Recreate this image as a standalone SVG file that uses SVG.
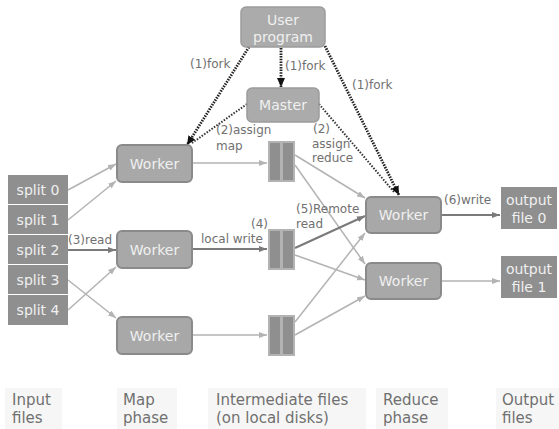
<svg xmlns="http://www.w3.org/2000/svg" width="559" height="429" viewBox="0 0 559 429">
<style>
text{font-family:"DejaVu Sans","Liberation Sans",sans-serif}
.node{fill:#a8a8a8;stroke:#8a8a8a;stroke-width:2}
.top{fill:#ababab;stroke:#9c9c9c;stroke-width:1.5}
.nt{fill:#f0f0f0;font-size:14px;text-anchor:middle}
.file{fill:#8f8f8f}
.ft{fill:#f0f0f0;font-size:14px;text-anchor:middle}
.lbl{fill:#707070;font-size:12px}
.lt{stroke:#b3b3b3;stroke-width:1.5;fill:none}
.dk{stroke:#7a7a7a;stroke-width:2;fill:none}
.dot{stroke:#222;stroke-width:2.8;stroke-dasharray:1.5 1.2;fill:none}
.dot2{stroke:#333;stroke-width:2;stroke-dasharray:1.5 1.5;fill:none}
.cap{fill:#f6f6f6}
.ct{fill:#707070;font-size:15px}
.ib{fill:#b3b3b3}
.ii{fill:#8f8f8f}
</style>
<defs>
<marker id="al" markerUnits="userSpaceOnUse" markerWidth="8" markerHeight="7" refX="8" refY="3.5" orient="auto"><path d="M0,0.5 L8,3.5 L0,6.5 z" fill="#b3b3b3"/></marker>
<marker id="ad" markerUnits="userSpaceOnUse" markerWidth="8" markerHeight="7" refX="8" refY="3.5" orient="auto"><path d="M0,0.5 L8,3.5 L0,6.5 z" fill="#7a7a7a"/></marker>
<marker id="ab" markerUnits="userSpaceOnUse" markerWidth="9" markerHeight="8" refX="9" refY="4" orient="auto"><path d="M0,0 L9,4 L0,8 z" fill="#111"/></marker>
</defs>

<g id="connectors">
<line class="lt" x1="68" y1="190" x2="116" y2="164" marker-end="url(#al)"/>
<line class="lt" x1="68" y1="220" x2="116" y2="181" marker-end="url(#al)"/>
<line class="dk" x1="68" y1="250" x2="116" y2="250" marker-end="url(#ad)"/>
<line class="lt" x1="68" y1="280" x2="116" y2="318" marker-end="url(#al)"/>
<line class="lt" x1="68" y1="310" x2="116" y2="267" marker-end="url(#al)"/>
<line class="lt" x1="192" y1="163" x2="267" y2="163" marker-end="url(#al)"/>
<line class="dk" x1="192" y1="249" x2="267" y2="249" marker-end="url(#ad)"/>
<line class="lt" x1="192" y1="335" x2="267" y2="335" marker-end="url(#al)"/>
<line class="lt" x1="295" y1="155" x2="365" y2="198" marker-end="url(#al)"/>
<line class="lt" x1="295" y1="165" x2="365" y2="264" marker-end="url(#al)"/>
<line class="dk" x1="295" y1="248" x2="365" y2="216" marker-end="url(#ad)"/>
<line class="lt" x1="295" y1="255" x2="365" y2="280" marker-end="url(#al)"/>
<line class="lt" x1="295" y1="322" x2="365" y2="233" marker-end="url(#al)"/>
<line class="lt" x1="295" y1="335" x2="365" y2="296" marker-end="url(#al)"/>
<line class="dk" x1="441" y1="215" x2="500" y2="215" marker-end="url(#ad)"/>
<line class="lt" x1="441" y1="281" x2="500" y2="281" marker-end="url(#al)"/>
<line class="dot" x1="281" y1="48" x2="281" y2="87" marker-end="url(#ab)"/>
<line class="dot" x1="249" y1="47" x2="187" y2="145" marker-end="url(#ab)"/>
<line class="dot" x1="325" y1="46" x2="399" y2="195" marker-end="url(#ab)"/>
<line class="dot2" x1="247" y1="104" x2="192" y2="143"/>
<line class="dot2" x1="319" y1="104" x2="394" y2="192"/>
</g>

<g id="labels">
<text class="lbl" x="190" y="68">(1)fork</text>
<text class="lbl" x="285" y="70">(1)fork</text>
<text class="lbl" x="352" y="89">(1)fork</text>
<text class="lbl" x="216" y="134">(2)assign</text>
<text class="lbl" x="216" y="150">map</text>
<text class="lbl" x="313" y="133">(2)</text>
<text class="lbl" x="312" y="148">assign</text>
<text class="lbl" x="312" y="162">reduce</text>
<text class="lbl" x="68" y="244">(3)read</text>
<text class="lbl" x="251" y="228">(4)</text>
<text class="lbl" x="201" y="243">local write</text>
<text class="lbl" x="296" y="213">(5)Remote</text>
<text class="lbl" x="296" y="228">read</text>
<text class="lbl" x="444" y="204">(6)write</text>
</g>

<g id="user-program"><rect class="top" x="241" y="7" width="84" height="40" rx="5"/><text class="nt" x="283" y="25">User</text><text class="nt" x="283" y="42">program</text></g>
<g id="master"><rect class="top" x="247" y="88" width="72" height="34" rx="5"/><text class="nt" x="283" y="110">Master</text></g>

<g id="map-worker-0"><rect class="node" x="117" y="145" width="75" height="37" rx="5"/><text class="nt" x="154.5" y="169">Worker</text></g>
<g id="map-worker-1"><rect class="node" x="117" y="231" width="75" height="37" rx="5"/><text class="nt" x="154.5" y="255">Worker</text></g>
<g id="map-worker-2"><rect class="node" x="117" y="317" width="75" height="37" rx="5"/><text class="nt" x="154.5" y="341">Worker</text></g>

<g id="reduce-worker-0"><rect class="node" x="366" y="197" width="75" height="36" rx="5"/><text class="nt" x="403.5" y="220">Worker</text></g>
<g id="reduce-worker-1"><rect class="node" x="366" y="263" width="75" height="36" rx="5"/><text class="nt" x="403.5" y="286">Worker</text></g>

<g id="split-0"><rect class="file" x="8" y="175" width="60" height="29"/><text class="ft" x="38" y="195">split 0</text></g>
<g id="split-1"><rect class="file" x="8" y="205" width="60" height="29"/><text class="ft" x="38" y="225">split 1</text></g>
<g id="split-2"><rect class="file" x="8" y="235" width="60" height="29"/><text class="ft" x="38" y="255">split 2</text></g>
<g id="split-3"><rect class="file" x="8" y="265" width="60" height="29"/><text class="ft" x="38" y="285">split 3</text></g>
<g id="split-4"><rect class="file" x="8" y="295" width="60" height="30"/><text class="ft" x="38" y="315">split 4</text></g>

<g id="intermediate-0"><rect class="ib" x="268" y="141" width="27" height="41"/><rect class="ii" x="270" y="143" width="10" height="37"/><rect class="ii" x="283" y="143" width="10" height="37"/></g>
<g id="intermediate-1"><rect class="ib" x="268" y="229" width="27" height="41"/><rect class="ii" x="270" y="231" width="10" height="37"/><rect class="ii" x="283" y="231" width="10" height="37"/></g>
<g id="intermediate-2"><rect class="ib" x="268" y="315" width="27" height="41"/><rect class="ii" x="270" y="317" width="10" height="37"/><rect class="ii" x="283" y="317" width="10" height="37"/></g>

<g id="output-0"><rect class="file" x="501" y="187" width="56" height="42"/><text class="ft" x="529" y="205">output</text><text class="ft" x="529" y="223">file 0</text></g>
<g id="output-1"><rect class="file" x="501" y="256" width="56" height="42"/><text class="ft" x="529" y="274">output</text><text class="ft" x="529" y="292">file 1</text></g>

<g id="captions">
<rect class="cap" x="5" y="388" width="57" height="41"/><text class="ct" x="12" y="405">Input</text><text class="ct" x="12" y="423">files</text>
<rect class="cap" x="117" y="388" width="60" height="41"/><text class="ct" x="123" y="405">Map</text><text class="ct" x="123" y="423">phase</text>
<rect class="cap" x="208" y="388" width="158" height="41"/><text class="ct" x="216" y="405">Intermediate files</text><text class="ct" x="216" y="423">(on local disks)</text>
<rect class="cap" x="376" y="388" width="72" height="41"/><text class="ct" x="383" y="405">Reduce</text><text class="ct" x="383" y="423">phase</text>
<rect class="cap" x="496" y="388" width="63" height="41"/><text class="ct" x="502" y="405">Output</text><text class="ct" x="502" y="423">files</text>
</g>
</svg>
